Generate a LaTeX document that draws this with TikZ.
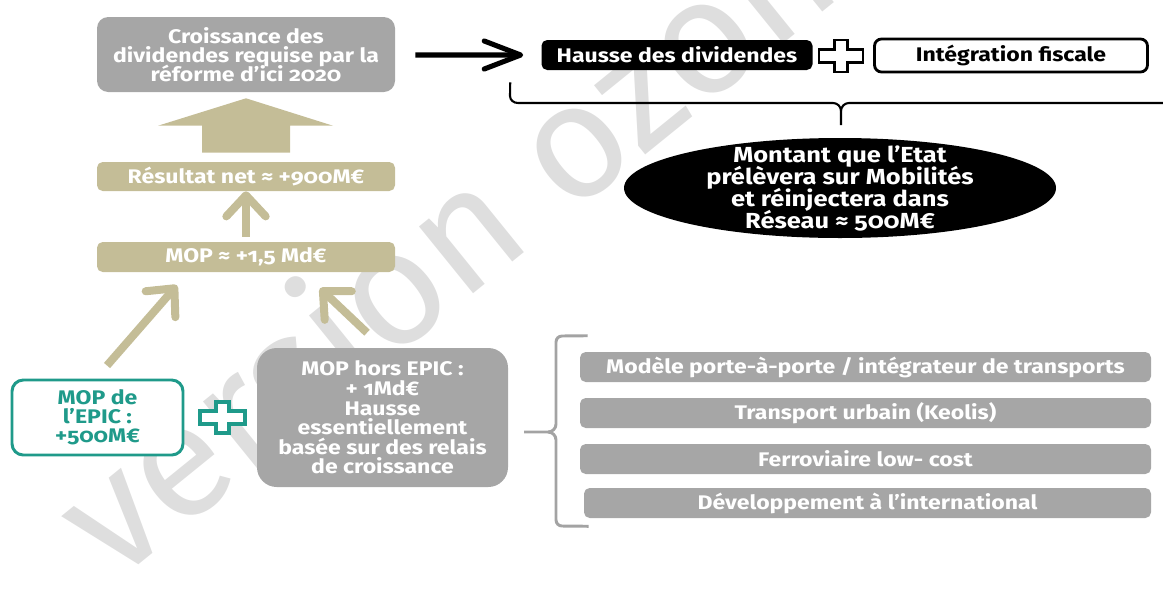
\documentclass[tikz,border=0pt]{standalone}
\usepackage{fontspec}
\setmainfont{Fira Sans}[Numbers=OldStyle, FakeStretch=1.17]
\newfontfamily\wmfont{Fira Sans}
\usetikzlibrary{shapes.geometric,arrows.meta,calc}
\definecolor{boxgray}{HTML}{A6A6A6}
\definecolor{khaki}{HTML}{C4BD97}
\definecolor{tealc}{HTML}{1F9A8A}
\definecolor{wmark}{HTML}{DEDEDE}
\definecolor{bracegray}{HTML}{A3A3A3}
\lineskiplimit=-20pt
\begin{document}
\begin{tikzpicture}[x=0.025cm,y=-0.025cm,
  sz/.style 2 args={minimum width=#1*0.025cm, minimum height=#2*0.025cm, inner sep=0pt},
  txt/.style={font=\fontsize{14}{13.6}\selectfont\bfseries, align=center},
  graybox/.style={fill=boxgray, text=white, rounded corners=4pt, txt},
  tanbox/.style={fill=khaki, text=white, rounded corners=4pt, txt},
  tanarrow/.style={draw=khaki, line width=5.7pt, -{Straight Barb[length=15pt, width=28pt, round]}},
  plusshape/.style={fill=white, line width=1.6pt, line join=miter},
]
\useasboundingbox (0,0) rectangle (1163,606);

% watermark
\node[rotate=39, anchor=mid, text=wmark, inner sep=0pt,
      font=\wmfont\fontsize{116}{116}\selectfont] (wm) at (512,258) {version ozone};

% left column
\node[graybox, sz={298}{75}, rounded corners=8pt] (top) at (246,54.5)
  {Croissance des\\dividendes requise par la\\réforme d’ici 2020};
\node[tanbox, sz={298}{29}] (res) at (246,176.5) {Résultat net ≈ +900M€};
\node[tanbox, sz={298}{30}] (mop) at (246,257) {MOP ≈ +1,5 Md€};
\node[txt, sz={171}{75}, draw=tealc, text=tealc, line width=2.1pt, rounded corners=8pt, fill=white]
  (epic) at (97.5,417.5) {MOP de\\l’EPIC :\\+500M€};
\node[graybox, sz={251}{139}, rounded corners=14pt, font=\fontsize{14}{13.9}\selectfont\bfseries] (hors) at (382.5,417.5)
  {MOP hors EPIC :\\+ 1Md€\\Hausse\\essentiellement\\basée sur des relais\\de croissance};

% big up arrow
\fill[khaki] ($(res.north)+(-44,-9)$) -- ++(0,-27) -- ++(-44,0) -- ($(top.south)+(0,6)$)
  -- ($(res.north)+(87,-36)$) -- ++(-43,0) -- ++(0,27) -- cycle;

% thin arrows
\draw[tanarrow, shorten <=3.5pt] (mop.north) -- (res.south);
\draw[tanarrow] ($(epic.north)+(9.5,-13)$) -- ($(mop.south)+(-69,13)$);
\draw[tanarrow] ($(hors.north)+(-15.5,-15)$) -- ($(mop.south)+(74,16)$);

% teal plus
\coordinate (p2) at (222.5,417.5);
\draw[plusshape, draw=tealc, line width=2.4pt]
  ($(p2)+(-6.5,-15.5)$) -- ($(p2)+(6.5,-15.5)$) -- ($(p2)+(6.5,-6.5)$) -- ($(p2)+(22.5,-6.5)$)
  -- ($(p2)+(22.5,6.5)$) -- ($(p2)+(6.5,6.5)$) -- ($(p2)+(6.5,15.5)$) -- ($(p2)+(-6.5,15.5)$)
  -- ($(p2)+(-6.5,6.5)$) -- ($(p2)+(-22.5,6.5)$) -- ($(p2)+(-22.5,-6.5)$) -- ($(p2)+(-6.5,-6.5)$) -- cycle;

% top right
\node[txt, sz={271}{30}, fill=black, text=white, rounded corners=4pt] (hausse) at (677,55) {Hausse des dividendes};
\node[txt, sz={273}{33}, draw=black, line width=2pt, rounded corners=5pt, fill=white] (integ) at (1011,55.5) {Intégration fiscale};
\draw[line width=3.6pt, -{Straight Barb[length=26pt, width=20pt, round]}]
  ($(top.east)+(20,0.5)$) -- ($(hausse.west)+(-18,0)$);

\coordinate (p1) at (841,56);
\draw[plusshape, draw=black]
  ($(p1)+(-6.5,-16)$) -- ($(p1)+(6.5,-16)$) -- ($(p1)+(6.5,-6.5)$) -- ($(p1)+(22,-6.5)$)
  -- ($(p1)+(22,6.5)$) -- ($(p1)+(6.5,6.5)$) -- ($(p1)+(6.5,16)$) -- ($(p1)+(-6.5,16)$)
  -- ($(p1)+(-6.5,6.5)$) -- ($(p1)+(-22,6.5)$) -- ($(p1)+(-22,-6.5)$) -- ($(p1)+(-6.5,-6.5)$) -- cycle;

% black brace
\coordinate (bt) at (841,125);
\draw[line width=1.5pt]
  ($(hausse.south west)+(-31,12)$) -- (510,96) to[out=-90,in=180] (518,103) -- (833,103)
  to[out=0,in=90] (841,111) -- (bt);
\draw[line width=1.5pt] (841,111) to[out=90,in=180] (849,103) -- (1163,103);

% ellipse
\node[ellipse, fill=black, sz={432}{100},
  label={[txt, font=\fontsize{15.5}{15.6}\selectfont\bfseries, text=white, yshift=-0.6pt]center:Montant que l’Etat\\prélèvera sur Mobilités\\et réinjectera dans\\Réseau ≈ 500M€}]
  (ell) at (840,188) {};

% right list
\node[graybox, sz={571}{30}] (b1) at (865.5,367) {Modèle porte-à-porte / intégrateur de transports};
\node[graybox, sz={571}{30}] (b2) at (865.5,413) {Transport urbain (Keolis)};
\node[graybox, sz={571}{30}] (b3) at (865.5,459) {Ferroviaire low- cost};
\node[graybox, sz={567}{30}] (b4) at (867.5,503) {Développement à l’international};

% gray brace
\coordinate (gt) at (524,432);
\draw[bracegray, line width=2.1pt]
  ($(b1.north west)+(8,-16)$) -- (562,336) to[out=180,in=90] (556,342) -- (556,424)
  to[out=-90,in=0] (548,432) -- (gt);
\draw[bracegray, line width=2.1pt]
  (548,432) to[out=0,in=90] (556,440) -- (556,520) to[out=-90,in=180] (562,526) -- ($(b4.south west)+(5,8)$);
\end{tikzpicture}
\end{document}
